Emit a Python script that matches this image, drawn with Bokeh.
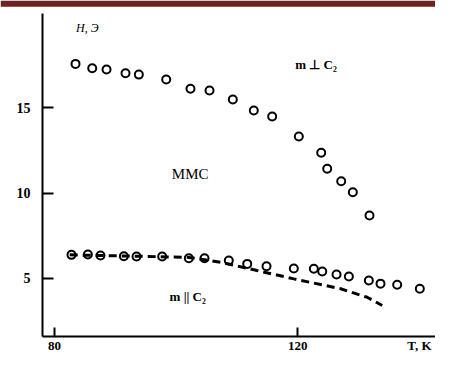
from bokeh.plotting import figure
from bokeh.models import Range1d, FixedTicker, Label, LinearAxis, BoxAnnotation
from bokeh.embed import file_html
from bokeh.resources import INLINE

# m ⊥ C2 series
T_perp = [83.45, 86.2, 88.55, 91.67, 93.86, 98.36, 102.35, 105.48, 109.31, 112.76,
          115.78, 120.16, 123.84, 124.83, 127.13, 129.04, 131.78]
H_perp = [17.58, 17.32, 17.25, 17.03, 16.95, 16.66, 16.12, 16.02, 15.49, 14.84,
          14.49, 13.32, 12.36, 11.42, 10.69, 10.05, 8.68]

# m || C2 series (circles)
T_par = [82.79, 85.48, 87.56, 91.4, 93.48, 97.7, 102.08, 104.66, 108.65, 111.68,
         114.85, 119.34, 122.63, 124.01, 126.36, 128.39, 131.67, 133.59, 136.33, 140.05]
H_par = [6.37, 6.39, 6.33, 6.29, 6.27, 6.27, 6.17, 6.17, 6.04, 5.84,
         5.70, 5.57, 5.55, 5.39, 5.22, 5.10, 4.87, 4.68, 4.62, 4.38]

# dashed curve
T_dash = [82.5, 87.56, 101.8, 107.3, 113.3, 119.35, 127.03, 131.4, 133.87]
H_dash = [6.37, 6.33, 6.23, 5.94, 5.45, 4.96, 4.38, 3.88, 3.40]

x_ticks = [80, 120]
x_name_pos = 140.0
x_name = "T, K"
y_ticks = [5, 10, 15]

# axis extents (data units)
T_axis = 78.03          # where the H axis stands
H_axis = 1.58           # where the T axis stands
T_end = 142.63
H_top = 20.53
band_bottom = 20.94     # top decorative band

SERIF = "Liberation Serif"

p = figure(width=435, height=353, output_backend="svg", toolbar_location=None,
           x_range=Range1d(71.12, T_end), y_range=Range1d(0.58, 21.30),
           x_axis_location=None, y_axis_location=None,
           min_border_left=0, min_border_right=0, min_border_top=0, min_border_bottom=0)
p.outline_line_color = None
p.xgrid.visible = False
p.ygrid.visible = False
p.background_fill_color = "white"
p.border_fill_color = "white"

p.add_layout(BoxAnnotation(bottom=band_bottom, fill_color="#6b2323", fill_alpha=1.0,
                           line_color=None, level="overlay"))

common = dict(axis_line_width=2, axis_line_color="black",
              major_tick_line_width=2, major_tick_line_color="black",
              major_tick_out=0, minor_tick_line_color=None,
              major_label_text_font=SERIF, major_label_text_font_style="bold",
              major_label_text_color="black")

# T axis: line and inner ticks
x_axis = LinearAxis(ticker=FixedTicker(ticks=x_ticks), fixed_location=H_axis,
                    bounds=(T_axis, T_end), major_tick_in=9,
                    major_label_text_font_size="0px", major_label_standoff=0, **common)
x_axis.major_label_text_color = None
p.add_layout(x_axis, "below")

# T axis labels (numbers and the axis name at the right)
lab_axis = LinearAxis(ticker=FixedTicker(ticks=x_ticks + [x_name_pos]),
                      major_label_overrides={x_name_pos: x_name},
                      fixed_location=H_axis,
                      axis_line_color=None, major_tick_line_color=None,
                      minor_tick_line_color=None, major_tick_in=0, major_tick_out=0,
                      major_label_standoff=2, major_label_text_font=SERIF,
                      major_label_text_font_style="bold", major_label_text_font_size="13px",
                      major_label_text_color="black")
p.add_layout(lab_axis, "below")

# H axis
y_axis = LinearAxis(ticker=FixedTicker(ticks=y_ticks), fixed_location=T_axis,
                    bounds=(H_axis, H_top), major_tick_in=11,
                    major_label_standoff=12, major_label_text_font_size="14px", **common)
p.add_layout(y_axis, "left")

p.scatter(T_perp, H_perp, size=8, marker="circle", fill_color=None,
          line_color="black", line_width=2)
p.scatter(T_par, H_par, size=8, marker="circle", fill_color=None,
          line_color="black", line_width=2)
p.line(T_dash, H_dash, line_color="black", line_width=3, line_dash="8 5")

def lab(x, y, text, size, style="normal", align="center", baseline="middle"):
    p.add_layout(Label(x=x, y=y, text=text, text_font=SERIF, text_font_size=size,
                       text_font_style=style, text_align=align, text_baseline=baseline,
                       text_color="black"))

lab(85.4, 19.7, "H, Э", "12px", "italic")
lab(123.0, 17.52, "m ⊥ C₂", "13px", "bold")
lab(102.3, 11.14, "MMC", "15px")
lab(101.9, 3.9, "m || C₂", "13px", "bold")

open("out.html", "w").write(file_html(p, INLINE))
